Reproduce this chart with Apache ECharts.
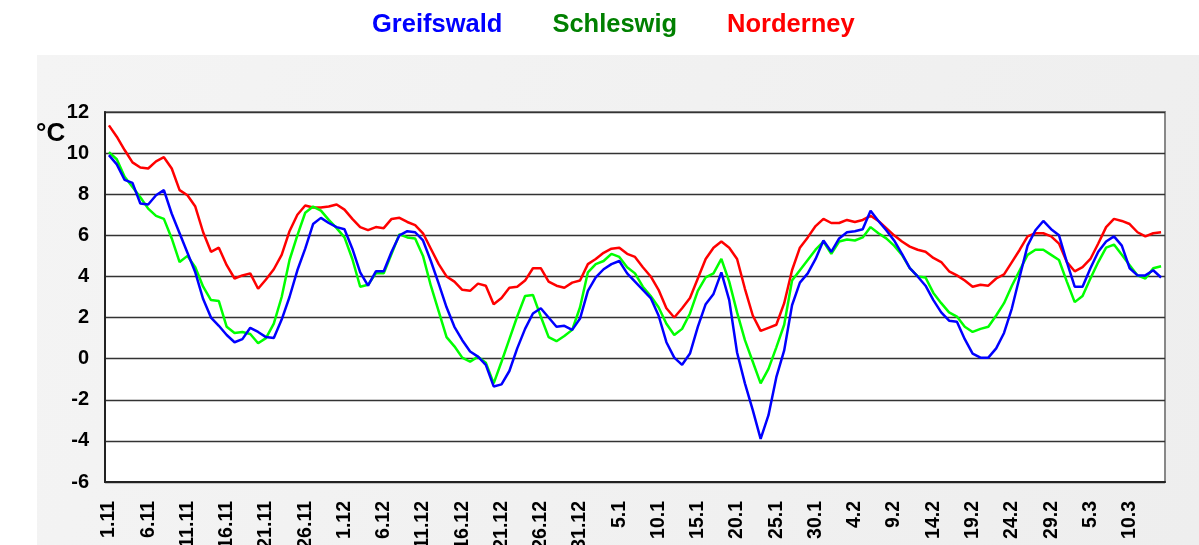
<!DOCTYPE html>
<html><head><meta charset="utf-8">
<script src="https://cdn.jsdelivr.net/npm/echarts@6/dist/echarts.min.js"></script>
<style>html,body{margin:0;padding:0;background:#fff}#c{width:1199px;height:545px}</style>
</head><body><div id="c"></div>
<script>
// Days 1.11 .. 14.3 (leap year: February has 29 days)
const monthSpans = [[11, 30], [12, 31], [1, 31], [2, 29], [3, 14]];
const categories = [];
monthSpans.forEach(([m, n]) => { for (let d = 1; d <= n; d++) categories.push(d + '.' + m); });

const seriesNames = ['Greifswald', 'Schleswig', 'Norderney'];

const greifswald = [9.9,9.45,8.7,8.55,7.55,7.5,7.95,8.2,7.05,6.1,5.15,4.2,2.9,2.0,1.6,1.15,0.8,0.95,1.5,1.3,
1.05,1.0,1.9,3.0,4.3,5.35,6.55,6.85,6.6,6.4,6.3,5.35,4.2,3.55,4.25,4.25,5.2,6.0,6.2,6.15,
5.75,4.75,3.65,2.5,1.55,0.9,0.35,0.1,-0.3,-1.35,-1.25,-0.6,0.5,1.45,2.2,2.45,2.0,1.55,1.6,1.4,
1.95,3.3,3.95,4.35,4.6,4.75,4.15,3.75,3.35,2.95,2.1,0.8,0.05,-0.3,0.25,1.55,2.65,3.15,4.2,2.85,
0.3,-1.2,-2.5,-3.9,-2.75,-0.9,0.4,2.6,3.7,4.15,4.85,5.75,5.2,5.85,6.15,6.2,6.3,7.2,6.7,6.25,
5.75,5.1,4.4,4.0,3.55,2.85,2.25,1.85,1.8,0.95,0.25,0.05,0.05,0.5,1.25,2.45,4.0,5.5,6.25,6.7,
6.3,6.0,4.7,3.5,3.5,4.4,5.2,5.7,5.95,5.5,4.4,4.05,4.05,4.3,3.95];

const schleswig = [10.05,9.7,8.85,8.35,7.85,7.3,6.95,6.8,5.85,4.7,5.0,4.45,3.5,2.85,2.8,1.55,1.25,1.3,1.2,0.75,
1.0,1.7,3.0,4.8,6.0,7.1,7.4,7.2,6.75,6.35,5.9,4.85,3.5,3.6,4.15,4.15,5.1,6.05,5.9,5.85,
5.0,3.55,2.3,1.05,0.6,0.05,-0.15,0.1,-0.2,-1.2,-0.15,0.95,2.05,3.05,3.1,2.05,1.05,0.85,1.1,1.4,
2.5,4.2,4.6,4.75,5.1,4.95,4.45,4.15,3.5,3.05,2.5,1.7,1.15,1.45,2.2,3.3,3.95,4.15,4.85,3.75,
2.25,0.9,-0.15,-1.2,-0.5,0.55,1.65,3.8,4.3,4.8,5.3,5.7,5.1,5.7,5.8,5.75,5.9,6.4,6.1,5.85,
5.5,5.05,4.4,4.0,3.95,3.2,2.7,2.25,2.05,1.55,1.3,1.45,1.55,2.1,2.7,3.55,4.3,5.05,5.3,5.3,
5.05,4.8,3.75,2.75,3.05,3.9,4.7,5.4,5.55,5.05,4.55,4.05,3.9,4.4,4.5];

const norderney = [11.35,10.8,10.15,9.55,9.3,9.25,9.6,9.8,9.25,8.2,7.95,7.4,6.15,5.2,5.4,4.55,3.9,4.05,4.15,3.4,
3.85,4.35,5.05,6.2,7.0,7.45,7.35,7.35,7.4,7.5,7.25,6.8,6.4,6.25,6.4,6.35,6.8,6.85,6.65,6.5,
6.1,5.35,4.6,4.0,3.75,3.35,3.3,3.65,3.55,2.65,2.95,3.45,3.5,3.8,4.4,4.4,3.75,3.55,3.45,3.7,
3.8,4.6,4.85,5.15,5.35,5.4,5.1,4.95,4.45,4.0,3.35,2.45,2.0,2.45,2.95,3.9,4.85,5.4,5.7,5.4,
4.85,3.4,2.1,1.35,1.5,1.65,2.7,4.3,5.4,5.9,6.45,6.8,6.6,6.6,6.75,6.65,6.75,6.95,6.7,6.35,
6.0,5.7,5.45,5.3,5.2,4.9,4.7,4.25,4.05,3.8,3.5,3.6,3.55,3.9,4.1,4.7,5.3,5.95,6.1,6.1,
5.95,5.6,4.7,4.25,4.45,4.85,5.6,6.4,6.8,6.7,6.55,6.15,5.95,6.1,6.15];

const yTicks = [-6, -4, -2, 0, 2, 4, 6, 8, 10, 12];
const unitLabel = '°C';

const lineColors = ['#0000ff', '#00ff00', '#ff0000'];
const legendColors = ['#0000ff', '#008000', '#ff0000'];
const FONT = '"Liberation Sans", Arial, Helvetica, sans-serif';

const chart = echarts.init(document.getElementById('c'), null, {renderer: 'canvas'});
chart.setOption({
  animation: false,
  backgroundColor: '#ffffff',
  graphic: [
    {type: 'rect', z: -10, shape: {x: 37, y: 55, width: 1162, height: 490},
     style: {fill: {type: 'linear', x: 0, y: 0, x2: 1, y2: 1,
       colorStops: [{offset: 0, color: '#f4f4f4'}, {offset: 1, color: '#eeeeee'}]}}},
    {type: 'text', left: 36, top: 121, z: 10,
     style: {text: unitLabel, font: 'bold 26px ' + FONT, fill: '#000'}}
  ],
  legend: {
    left: 367, top: 12, padding: 0, icon: 'none', itemWidth: 0, itemGap: 45,
    selectedMode: false,
    data: seriesNames.map((n, i) => ({name: n, textStyle: {color: legendColors[i]}})),
    textStyle: {fontFamily: FONT, fontWeight: 'bold', fontSize: 25.5}
  },
  grid: {left: 105, right: 34, top: 112, bottom: 63, show: true, containLabel: false,
         outerBoundsMode: 'none',
         backgroundColor: '#ffffff', borderColor: '#888888', borderWidth: 2},
  xAxis: {
    type: 'category', data: categories, boundaryGap: true,
    axisLine: {onZero: false, lineStyle: {color: '#222', width: 2}},
    axisTick: {interval: 4, length: 5, lineStyle: {color: '#222', width: 1.5}},
    axisLabel: {interval: 4, rotate: 90, margin: 19, color: '#000',
      fontFamily: FONT, fontWeight: 'bold', fontSize: 19.5, hideOverlap: false},
    splitLine: {show: false}
  },
  yAxis: {
    type: 'value', min: yTicks[0], max: yTicks[yTicks.length - 1], interval: 2,
    axisLine: {show: true, lineStyle: {color: '#222', width: 2}},
    axisTick: {show: false},
    axisLabel: {margin: 16, color: '#000', fontFamily: FONT, fontWeight: 'bold', fontSize: 20},
    splitLine: {lineStyle: {color: '#333', width: 1.3}}
  },
  series: [greifswald, schleswig, norderney].map((d, i) => ({
    name: seriesNames[i], type: 'line', data: d, symbol: 'none',
    lineStyle: {color: lineColors[i], width: 2.5}, itemStyle: {color: lineColors[i]},
    z: 3 - i
  }))
});
</script></body></html>
